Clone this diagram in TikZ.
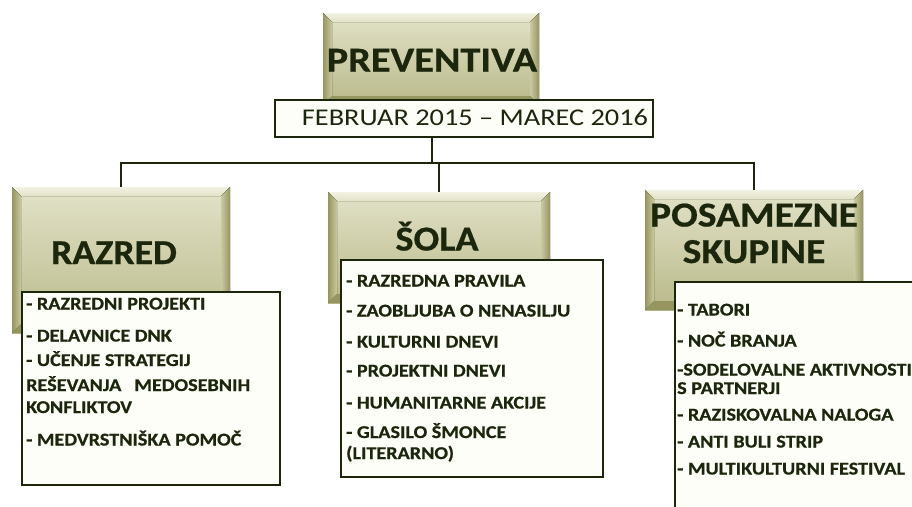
\documentclass[tikz,border=0pt]{standalone}
\usepackage{fontspec}
\usepackage{graphicx}
\setmainfont{Carlito}[BoldFeatures={FakeBold=0.6}]
\definecolor{ink}{HTML}{1B260C}
\definecolor{bevtop}{HTML}{F2F2E3}
\definecolor{bevdark}{HTML}{959560}
\definecolor{bevmid}{HTML}{CACAA2}
\definecolor{facetop}{HTML}{E2E2C8}
\definecolor{facebot}{HTML}{B9B98A}
\definecolor{paper}{HTML}{FEFEF9}
\newcommand\sxa[1]{\scalebox{1.12}[1]{#1}}
\tikzset{
  bev/.style={draw=none, inner sep=0pt, path picture={
    \coordinate (q1) at (path picture bounding box.north west);
    \coordinate (q2) at (path picture bounding box.north east);
    \coordinate (q3) at (path picture bounding box.south east);
    \coordinate (q4) at (path picture bounding box.south west);
    \fill[top color=facetop, bottom color=facebot] (q1) rectangle (q3);
    \fill[top color=bevtop, bottom color=facetop] (q1) -- (q2) -- ([xshift=-9pt,yshift=-9pt]q2) -- ([xshift=9pt,yshift=-9pt]q1) -- cycle;
    \fill[left color=bevdark, right color=bevmid] (q1) -- ([xshift=9pt,yshift=-9pt]q1) -- ([xshift=9pt,yshift=9pt]q4) -- (q4) -- cycle;
    \fill[right color=bevdark, left color=bevmid] (q2) -- (q3) -- ([xshift=-9pt,yshift=9pt]q3) -- ([xshift=-9pt,yshift=-9pt]q2) -- cycle;
    \fill[bevdark] (q4) -- (q3) -- ([xshift=-9pt,yshift=9pt]q3) -- ([xshift=9pt,yshift=9pt]q4) -- cycle;
  }},
  listbox/.style={draw=ink, line width=1.5pt, fill=paper, inner sep=0pt},
  title/.style={anchor=base, inner sep=0pt, text=ink, font=\fontsize{35}{40}\selectfont\bfseries},
  item/.style={anchor=base west, inner sep=0pt, text=ink, font=\fontsize{18}{21}\selectfont\bfseries},
  conn/.style={draw=ink, line width=2.5pt},
}
\begin{document}
\begin{tikzpicture}[x=1pt, y=-1pt]
\useasboundingbox (0,0) rectangle (912,506);
\clip (0,0) rectangle (912,506);
\fill[white] (0,0) rectangle (912,506);

% top
\node[bev, minimum width=216pt, minimum height=92pt] (prev) at (431,59) {};
\node[title] (prevT) at (432,71.5) {\scalebox{1.15}[1]{PREVENTIVA}};
\node[listbox, minimum width=378pt, minimum height=37pt] (date) at (464,118.5) {};
\node[anchor=base, inner sep=0pt, text=ink, font=\fontsize{24}{27}\selectfont] (dateT) at (475,125.5) {\scalebox{1.18}[1]{FEBRUAR 2015 – MAREC 2016}};

% level boxes
\node[bev, minimum width=218pt, minimum height=146pt] (razred) at (121,260) {};
\node[bev, minimum width=222pt, minimum height=111pt] (sola) at (439,247.5) {};
\node[bev, minimum width=218pt, minimum height=120pt] (posam) at (754,250) {};

% connectors
\coordinate (jn) at (432,163);
\draw[conn] (date.south -| jn) -- (jn);
\draw[conn] (jn) -| (razred.north);
\draw[conn] (jn) -| (sola.north);
\draw[conn] (jn) -| (posam.north);

% titles
\node[title] (razredT) at (114,264) {\scalebox{1.08}[1]{RAZRED}};
\node[title] (solaT) at (437,250.5) {\scalebox{1.09}[1]{ŠOLA}};
\node[title] (posamT1) at (754,226.5) {\scalebox{1.13}[1]{POSAMEZNE}};
\node[title] (posamT2) at (754,263) {\scalebox{1.13}[1]{SKUPINE}};

% list boxes
\node[listbox, minimum width=258pt, minimum height=193pt] (razredL) at (151,388.5) {};
\node[listbox, minimum width=262pt, minimum height=217pt] (solaL) at (472,368.5) {};
\node[listbox, minimum width=260pt, minimum height=250pt] (posamL) at (805,407) {};

% razred items
\node[item] (r1) at (26,309.5) {\sxa{- RAZREDNI PROJEKTI}};
\node[item] (r2) at (26,341.5) {\sxa{- DELAVNICE DNK}};
\node[item] (r3) at (26,366) {\sxa{- UČENJE STRATEGIJ}};
\node[item] (r4) at (26,391) {\sxa{\hbox to 200pt{REŠEVANJA\hfill MEDOSEBNIH}}};
\node[item] (r5) at (26,413) {\sxa{KONFLIKTOV}};
\node[item] (r6) at (26,445.5) {\sxa{- MEDVRSTNIŠKA POMOČ}};

% sola items
\node[item] (s1) at (346,286.5) {\sxa{- RAZREDNA PRAVILA}};
\node[item] (s2) at (346,316.5) {\sxa{- ZAOBLJUBA O NENASILJU}};
\node[item] (s3) at (346,347.5) {\sxa{- KULTURNI DNEVI}};
\node[item] (s4) at (346,376.5) {\sxa{- PROJEKTNI DNEVI}};
\node[item] (s5) at (346,408.5) {\sxa{- HUMANITARNE AKCIJE}};
\node[item] (s6) at (346,438) {\sxa{- GLASILO ŠMONCE}};
\node[item] (s7) at (346,459) {\sxa{(LITERARNO)}};

% posamezne items
\node[item] (p1) at (677,315.5) {\sxa{- TABORI}};
\node[item] (p2) at (677,346.5) {\sxa{- NOČ BRANJA}};
\node[item] (p3) at (677,375.5) {\sxa{-SODELOVALNE AKTIVNOSTI}};
\node[item] (p4) at (677,394) {\sxa{S PARTNERJI}};
\node[item] (p5) at (677,420.5) {\sxa{- RAZISKOVALNA NALOGA}};
\node[item] (p6) at (677,447.5) {\sxa{- ANTI BULI STRIP}};
\node[item] (p7) at (677,474.5) {\sxa{- MULTIKULTURNI FESTIVAL}};
\end{tikzpicture}
\end{document}
